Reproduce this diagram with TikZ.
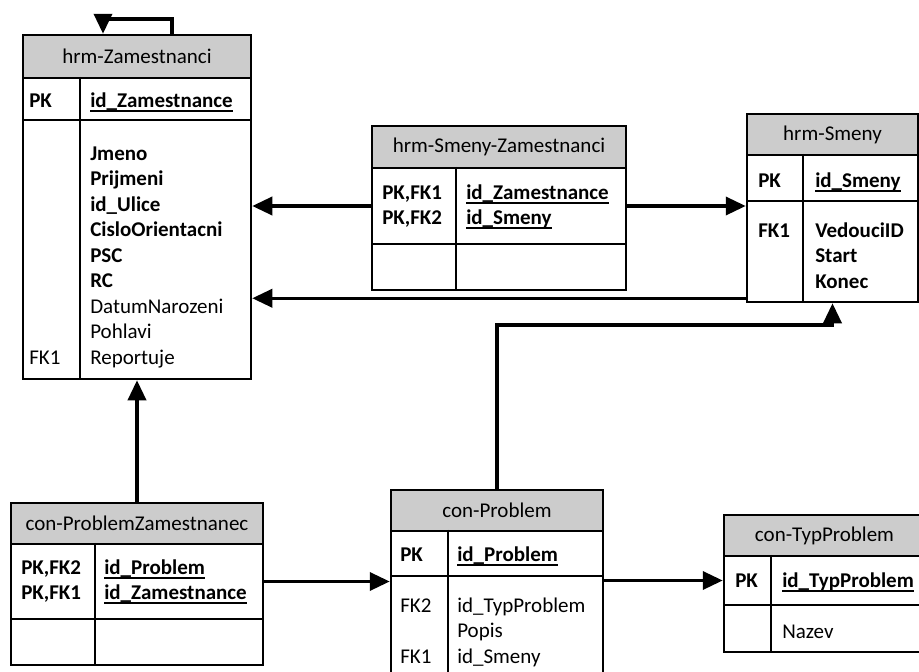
\documentclass[tikz,border=0pt]{standalone}
\usepackage{fontspec}
\setmainfont{Carlito}
\newcommand{\keyul}[1]{\setbox0\hbox{#1}\rlap{\rule[-4.5pt]{\wd0}{1.8pt}}\box0}
\usetikzlibrary{arrows.meta,fit}

\begin{document}
\begin{tikzpicture}[x=1pt, y=-1pt, line width=2.5pt, line join=miter,
    every node/.append style={font=\fontsize{21}{25.5}\selectfont},
    tabhead/.style={draw, fill=gray!40, inner sep=0pt},
    tabrow/.style={draw, inner sep=0pt},
    field/.style={anchor=base west, inner sep=0pt},
    rel/.style={line width=3.5pt, -{Triangle[length=20pt,width=18pt]}}]

   \useasboundingbox (0,0) rectangle (919,672);

   % hrm-Zamestnanci
   \node [tabhead, fit={(23,35) (251,78)}]   (zh) {};
   \node (zht) at (zh) {hrm-Zamestnanci};
   \node [tabrow,  fit={(23,78) (251,120)}]  (zk) {};
   \node [tabrow,  fit={(23,120) (251,379)}] (zb) {};
   \draw (zk.north -| 80,0) -- (zb.south -| 80,0);
   \node [field] (zpk) at (28,107) {\textbf{PK}};
   \node [field] (zid) at (89,107) {\keyul{\textbf{id\_Zamestnance}}};
   \foreach [count=\i] \t in {\textbf{Jmeno}, \textbf{Prijmeni}, \textbf{id\_Ulice},
       \textbf{CisloOrientacni}, \textbf{PSC}, \textbf{RC}, DatumNarozeni, Pohlavi, Reportuje}
     \node [field] (zf\i) at (89,134.5+25.5*\i) {\t};
   \node [field] (zfk) at (28,364) {FK1};

   % hrm-Smeny-Zamestnanci
   \node [tabhead, fit={(372,126) (626,168)}] (sh) {};
   \node (sht) at (sh) {hrm-Smeny-Zamestnanci};
   \node [tabrow,  fit={(372,168) (626,244)}] (sk) {};
   \node [tabrow,  fit={(372,244) (626,290)}] (sb) {};
   \draw (sk.north -| 456,0) -- (sb.south -| 456,0);
   \node [field] (sk1) at (381,199)   {\textbf{PK,FK1}};
   \node [field] (sk2) at (381,224.5) {\textbf{PK,FK2}};
   \node [field] (sf1) at (465,199)   {\keyul{\textbf{id\_Zamestnance}}};
   \node [field] (sf2) at (465,224.5) {\keyul{\textbf{id\_Smeny}}};

   % hrm-Smeny
   \node [tabhead, fit={(747,114) (918,155)}] (mh) {};
   \node (mht) at (mh) {hrm-Smeny};
   \node [tabrow,  fit={(747,155) (918,201)}] (mk) {};
   \node [tabrow,  fit={(747,201) (918,302)}] (mb) {};
   \draw (mk.north -| 803,0) -- (mb.south -| 803,0);
   \node [field] (mpk) at (757,187) {\textbf{PK}};
   \node [field] (mid) at (814,187) {\keyul{\textbf{id\_Smeny}}};
   \node [field] (mfk) at (757,237) {\textbf{FK1}};
   \foreach [count=\i] \t in {VedouciID, Start, Konec}
     \node [field] (mf\i) at (814,211.5+25.5*\i) {\textbf{\t}};

   % con-ProblemZamestnanec
   \node [tabhead, fit={(11,503) (263,544)}] (ph) {};
   \node (pht) at (ph) {con-ProblemZamestnanec};
   \node [tabrow,  fit={(11,544) (263,619)}] (pk) {};
   \node [tabrow,  fit={(11,619) (263,665)}] (pb) {};
   \draw (pk.north -| 95,0) -- (pb.south -| 95,0);
   \node [field] (pk1) at (20,574)   {\textbf{PK,FK2}};
   \node [field] (pk2) at (20,599.5) {\textbf{PK,FK1}};
   \node [field] (pf1) at (103,574)   {\keyul{\textbf{id\_Problem}}};
   \node [field] (pf2) at (103,599.5) {\keyul{\textbf{id\_Zamestnance}}};

   % con-Problem
   \node [tabhead, fit={(391,490) (603,531)}] (ch) {};
   \node (cht) at (ch) {con-Problem};
   \node [tabrow,  fit={(391,531) (603,576)}] (ck) {};
   \node [tabrow,  fit={(391,576) (603,676)}] (cb) {};
   \draw (ck.north -| 448,0) -- (cb.south -| 448,0);
   \node [field] (cpk) at (399,561) {\textbf{PK}};
   \node [field] (cid) at (456,561) {\keyul{\textbf{id\_Problem}}};
   \node [field] (cfk2) at (399,612) {FK2};
   \node [field] (cfk1) at (399,663) {FK1};
   \foreach [count=\i] \t in {id\_TypProblem, Popis, id\_Smeny}
     \node [field] (cf\i) at (456,586.5+25.5*\i) {\t};

   % con-TypProblem
   \node [tabhead, fit={(724,515) (925,556)}] (th) {};
   \node (tht) at (th) {con-TypProblem};
   \node [tabrow,  fit={(724,556) (925,605)}] (tk) {};
   \node [tabrow,  fit={(724,605) (925,652)}] (tb) {};
   \draw (tk.north -| 771,0) -- (tb.south -| 771,0);
   \node [field] (tpk) at (734,587) {\textbf{PK}};
   \node [field] (tid) at (781,587) {\keyul{\textbf{id\_TypProblem}}};
   \node [field] (tf1) at (781,638) {Nazev};

   % relations
   \coordinate (bend) at (0,325);
   \coordinate (mlow) at ([yshift=5pt]mb.south west);
   \draw [rel] ([xshift=35pt]zh.north) -- ++(0,-15) -| ([xshift=-34pt]zh.north);
   \draw [rel] (sk.west) -- (zb.east |- sk.west);
   \draw [rel] (sk.east) -- (mb.west |- sk.east);
   \draw [rel] (mlow) -- (zb.east |- mlow);
   \draw [rel] (ch.north) -- (ch.north |- bend) -| (mb.south);
   \draw [rel] (ph.north) -- (zb.south);
   \draw [rel] (pk.east) -- (cb.west |- pk.east);
   \draw [rel] (cb.east |- tk.west) -- (tk.west);

\end{tikzpicture}
\end{document}
